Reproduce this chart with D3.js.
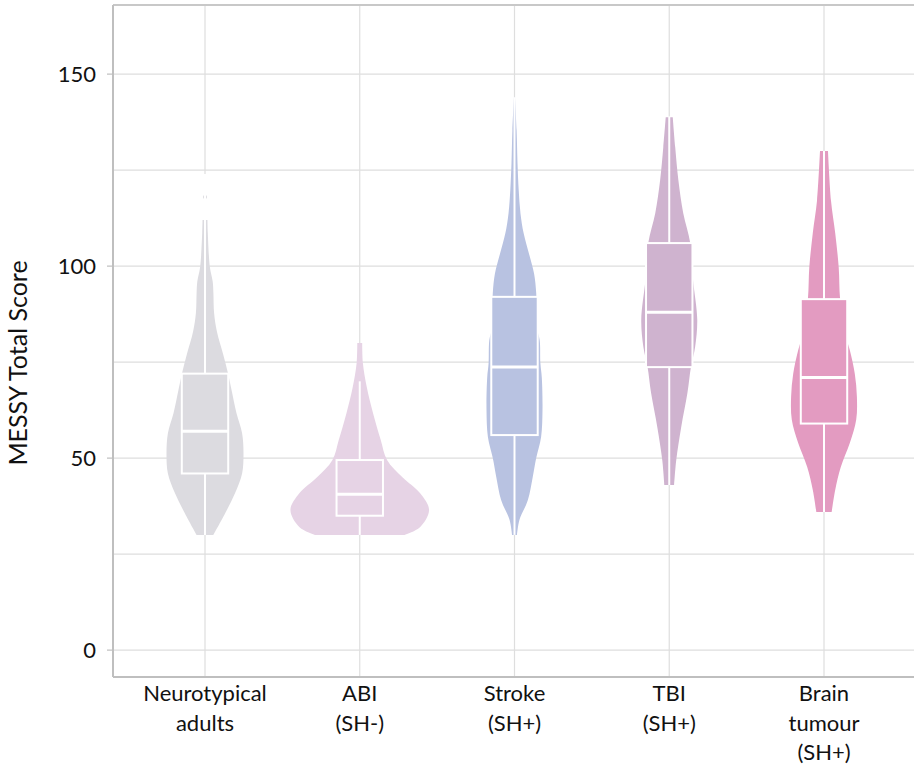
<!DOCTYPE html>
<html>
<head>
<meta charset="utf-8">
<script src="https://cdn.jsdelivr.net/npm/d3@7"></script>
<style>
  body { margin: 0; background: #fff; }
  text { font-family: Lato, "Open Sans", sans-serif; fill: #111; }
</style>
</head>
<body>
<svg id="chart" width="914" height="768"></svg>
<script>
// categories (label lines) and colours
const groups = ["Neurotypical adults", "ABI (SH-)", "Stroke (SH+)", "TBI (SH+)", "Brain tumour (SH+)"];
const groupLines = [["Neurotypical", "adults"], ["ABI", "(SH-)"], ["Stroke", "(SH+)"], ["TBI", "(SH+)"], ["Brain", "tumour", "(SH+)"]];
const colors = ["#dcdbe0", "#e6d3e5", "#b8c2e1", "#cfb3cf", "#e39bc1"];

// box plot stats: [low whisker, q1, median, q3, high whisker]
const boxStats = [
    [30, 46, 57, 72, 124],
    [30, 35, 40.6, 49.5, 70],
    [30, 56, 73.7, 92, 144],
    [43, 73.7, 88, 106, 139],
    [36, 59, 71, 91.4, 130]
];

// violin outlines: [score, relative density] (1 = widest violin)
const densNeuro = [[30,0.12],[35.7,0.29],[40.9,0.43],[46,0.53],[51.3,0.55],[56.5,0.53],[61.7,0.45],[67.7,0.38],[72,0.33],[77,0.26],[83,0.17],[87.8,0.13],[93,0.12],[96,0.11],[99.7,0.07],[108.6,0.04],[112,0.035]];
const densABI = [[30,0.64],[32,0.86],[36.5,0.99],[40.9,0.86],[45,0.61],[49.5,0.39],[54.7,0.3],[61.7,0.19],[68.5,0.1],[74.7,0.045],[80,0.035]];
const densStroke = [[30,0.035],[33.9,0.07],[39,0.19],[45,0.26],[50,0.31],[55.5,0.38],[62.5,0.4],[71,0.39],[74.7,0.37],[80.7,0.36],[84,0.32],[93,0.31],[98,0.28],[103,0.21],[108.6,0.13],[113.8,0.085],[119.8,0.06],[126.8,0.043],[135.4,0.03],[144,0.007]];
const densTBI = [[43,0.07],[49.5,0.1],[58,0.17],[67,0.26],[73.7,0.31],[79,0.37],[86,0.4],[96.4,0.34],[106,0.3],[113.8,0.2],[122.4,0.13],[131,0.085],[138.8,0.05]];
const densBrain = [[36,0.11],[41.7,0.16],[47.7,0.24],[54,0.37],[60,0.46],[66,0.47],[72,0.44],[78,0.37],[82.5,0.3],[91.4,0.23],[99.7,0.21],[108.6,0.16],[117,0.1],[130,0.057]];
const densities = [densNeuro, densABI, densStroke, densTBI, densBrain];

// a stray point above the neurotypical whisker
const outliers = [{g: 0, v: 118}];

const yTicks = [0, 50, 100, 150];
const yGrid = [0, 25, 50, 75, 100, 125, 150];

const svg = d3.select("#chart");
const plotTop = 5, plotBottom = 677, plotLeft = 113, plotRight = 914;

const y = d3.scaleLinear().domain([-7, 168]).range([plotBottom, plotTop]);
const x = d3.scalePoint().domain(groups).range([205, 824]);
const w = d3.scaleLinear().domain([0, 1]).range([0, 70]);
const boxW = x.step() * 0.3;

// grid
svg.append("g").selectAll("line")
    .data(yGrid)
    .join("line")
    .attr("x1", plotLeft).attr("x2", plotRight)
    .attr("y1", d => y(d)).attr("y2", d => y(d))
    .attr("stroke", "#dedede").attr("stroke-width", 1.2);

svg.append("g").selectAll("line")
    .data(groups)
    .join("line")
    .attr("x1", d => x(d)).attr("x2", d => x(d))
    .attr("y1", plotTop).attr("y2", plotBottom)
    .attr("stroke", "#dedede").attr("stroke-width", 1.2);

// frame
svg.append("line").attr("x1", plotLeft).attr("x2", plotRight).attr("y1", plotTop).attr("y2", plotTop)
    .attr("stroke", "#c8c8c8").attr("stroke-width", 2);
svg.append("line").attr("x1", plotLeft).attr("x2", plotLeft).attr("y1", plotTop).attr("y2", plotBottom)
    .attr("stroke", "#bfbfbf").attr("stroke-width", 2);
svg.append("line").attr("x1", plotLeft).attr("x2", plotRight).attr("y1", plotBottom).attr("y2", plotBottom)
    .attr("stroke", "#bfbfbf").attr("stroke-width", 2);

// y ticks
svg.append("g").selectAll("line")
    .data(yTicks)
    .join("line")
    .attr("x1", plotLeft - 6).attr("x2", plotLeft)
    .attr("y1", d => y(d)).attr("y2", d => y(d))
    .attr("stroke", "#bfbfbf").attr("stroke-width", 1.2);

svg.append("g").selectAll("text")
    .data(yTicks)
    .join("text")
    .attr("x", 96)
    .attr("y", d => y(d))
    .attr("dy", "0.35em")
    .attr("text-anchor", "end")
    .attr("font-size", 22)
    .text(d => d);

svg.append("text")
    .attr("transform", `translate(27, 363) rotate(-90)`)
    .attr("text-anchor", "middle")
    .attr("font-size", 25)
    .text("MESSY Total Score");

// violins
groups.forEach((g, i) => {
    const cx = x(g);
    const area = d3.area()
        .y(d => y(d[0]))
        .x0(d => cx - w(d[1]))
        .x1(d => cx + w(d[1]))
        .curve(d3.curveCatmullRom);
    svg.append("path")
        .attr("d", area(densities[i]))
        .attr("fill", colors[i]);
});

outliers.forEach(o => {
    svg.append("circle")
        .attr("cx", x(groups[o.g]))
        .attr("cy", y(o.v))
        .attr("r", 2)
        .attr("fill", colors[o.g]);
});

// box plots
const boxes = svg.append("g").selectAll("g")
    .data(groups.map((g, i) => ({g: g, s: boxStats[i], c: colors[i]})))
    .join("g");

boxes.append("line")
    .attr("x1", d => x(d.g)).attr("x2", d => x(d.g))
    .attr("y1", d => y(d.s[0])).attr("y2", d => y(d.s[1]))
    .attr("stroke", "#fff").attr("stroke-width", 2);
boxes.append("line")
    .attr("x1", d => x(d.g)).attr("x2", d => x(d.g))
    .attr("y1", d => y(d.s[3])).attr("y2", d => y(d.s[4]))
    .attr("stroke", "#fff").attr("stroke-width", 2);
boxes.append("rect")
    .attr("x", d => x(d.g) - boxW / 2)
    .attr("width", boxW)
    .attr("y", d => y(d.s[3]))
    .attr("height", d => y(d.s[1]) - y(d.s[3]))
    .attr("fill", d => d.c)
    .attr("stroke", "#fff").attr("stroke-width", 2);
boxes.append("line")
    .attr("x1", d => x(d.g) - boxW / 2).attr("x2", d => x(d.g) + boxW / 2)
    .attr("y1", d => y(d.s[2])).attr("y2", d => y(d.s[2]))
    .attr("stroke", "#fff").attr("stroke-width", 3);

// category labels
const labels = svg.append("g").selectAll("text")
    .data(groups)
    .join("text")
    .attr("x", d => x(d))
    .attr("text-anchor", "middle")
    .attr("font-size", 22);
labels.each(function(d, i) {
    d3.select(this).selectAll("tspan")
        .data(groupLines[i])
        .join("tspan")
        .attr("x", x(d))
        .attr("y", (t, j) => 701 + j * 29.5)
        .text(t => t);
});
</script>
</body>
</html>
